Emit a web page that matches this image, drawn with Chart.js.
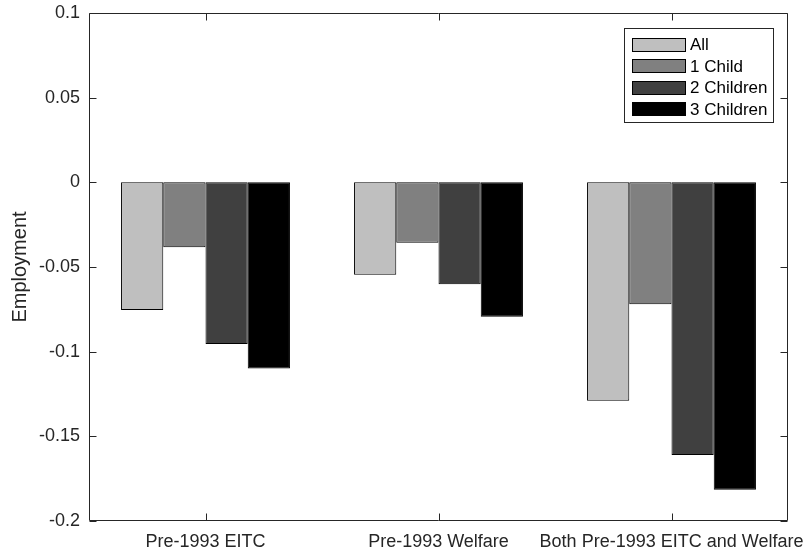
<!DOCTYPE html>
<html>
<head>
<meta charset="utf-8">
<script src="https://cdn.jsdelivr.net/npm/chart.js@4/dist/chart.umd.min.js"></script>
<style>
  html, body { margin: 0; padding: 0; background: #fff; }
  #wrap { width: 808px; height: 555px; }
</style>
</head>
<body>
<div id="wrap"><canvas id="myChart" width="808" height="555"></canvas></div>
<script>
// data
const categories = ['Pre-1993 EITC', 'Pre-1993 Welfare', 'Both Pre-1993 EITC and Welfare'];
const seriesNames = ['All', '1 Child', '2 Children', '3 Children'];
const allKids = [-0.0754, -0.0546, -0.129];
const oneChild = [-0.0383, -0.0357, -0.072];
const twoChildren = [-0.0955, -0.0602, -0.161];
const threeChildren = [-0.110, -0.0794, -0.1815];
const yMin = -0.2, yMax = 0.1, yStep = 0.05;

const seriesValues = [allKids, oneChild, twoChildren, threeChildren];
const fills = ['#bfbfbf', '#808080', '#404040', '#000000'];
const axisColor = '#262626';
const fontFamily = '"Liberation Sans", Arial, Helvetica, sans-serif';

let datasets = [];
for (let i = 0; i < seriesNames.length; i++) {
  datasets.push({
    label: seriesNames[i],
    data: seriesValues[i],
    backgroundColor: fills[i],
    borderColor: '#000',
    borderWidth: 1,
    borderSkipped: false
  });
}

// box around axes + inward ticks (matlab style)
const boxPlugin = {
  id: 'boxPlugin',
  afterDraw(chart) {
    const c = chart.ctx, a = chart.chartArea;
    const xs = chart.scales.x, ys = chart.scales.y;
    const L = Math.round(a.left) + 0.5, R = Math.round(a.right) - 0.5;
    const T = Math.round(a.top) + 0.5, B = Math.round(a.bottom) - 0.5;
    c.save();
    c.strokeStyle = axisColor;
    c.lineWidth = 1;
    c.beginPath();
    c.rect(L, T, R - L, B - T);
    for (let i = 0; i < ys.ticks.length; i++) {
      const p = Math.round(ys.getPixelForValue(ys.ticks[i].value)) + 0.5;
      c.moveTo(L, p); c.lineTo(L + 7, p);
      c.moveTo(R, p); c.lineTo(R - 7, p);
    }
    for (let i = 0; i < xs.ticks.length; i++) {
      const p = Math.round(xs.getPixelForTick(i)) + 0.5;
      c.moveTo(p, B); c.lineTo(p, B - 7);
      c.moveTo(p, T); c.lineTo(p, T + 7);
    }
    c.stroke();
    c.restore();
  }
};

// legend box in the top right corner
const legendPlugin = {
  id: 'legendBox',
  afterDraw(chart) {
    const c = chart.ctx, a = chart.chartArea;
    const w = 149, h = 94;
    const x = Math.round(a.right) - 15 - w, y = Math.round(a.top) + 15;
    c.save();
    c.fillStyle = '#fff';
    c.fillRect(x, y, w, h);
    c.strokeStyle = axisColor;
    c.lineWidth = 1;
    c.strokeRect(x + 0.5, y + 0.5, w, h);
    c.font = '17px ' + fontFamily;
    c.textBaseline = 'middle';
    chart.data.datasets.forEach((ds, i) => {
      const cy = y + 16.5 + i * 21.5;
      c.fillStyle = ds.backgroundColor;
      c.fillRect(x + 8, Math.round(cy - 7), 54, 14);
      c.strokeStyle = '#000';
      c.strokeRect(x + 8.5, Math.round(cy - 7) + 0.5, 53, 13);
      c.fillStyle = '#000';
      c.fillText(ds.label, x + 66, cy + 1);
    });
    c.restore();
  }
};

const ctx = document.getElementById('myChart');
new Chart(ctx, {
  type: 'bar',
  data: { labels: categories, datasets: datasets },
  options: {
    responsive: false,
    animation: false,
    layout: { padding: { left: 0, top: 13, right: 20, bottom: 0 } },
    datasets: { bar: { categoryPercentage: 0.725, barPercentage: 1 } },
    plugins: { legend: { display: false }, tooltip: { enabled: false } },
    scales: {
      x: {
        grid: { display: false, drawTicks: false },
        border: { display: false },
        ticks: { color: axisColor, padding: 10, maxRotation: 0, autoSkip: false,
                 font: { family: fontFamily, size: 18 } },
        afterFit(s) { s.height = 34; s.paddingLeft = 0; s.paddingRight = 0; }
      },
      y: {
        min: yMin, max: yMax,
        grid: {
          drawTicks: false,
          color: c => (c.tick && c.tick.value === 0 ? '#000' : 'rgba(0,0,0,0)')
        },
        border: { display: false },
        ticks: {
          stepSize: yStep, color: axisColor, padding: 9,
          font: { family: fontFamily, size: 18 },
          callback: v => String(Math.round(v * 100) / 100)
        },
        title: { display: true, text: 'Employment', color: axisColor,
                 font: { family: fontFamily, size: 20 }, padding: { top: 8, bottom: 4 } },
        afterFit(s) { s.width = 89; s.paddingTop = 0; s.paddingBottom = 0; }
      }
    }
  },
  plugins: [boxPlugin, legendPlugin]
});
</script>
</body>
</html>
